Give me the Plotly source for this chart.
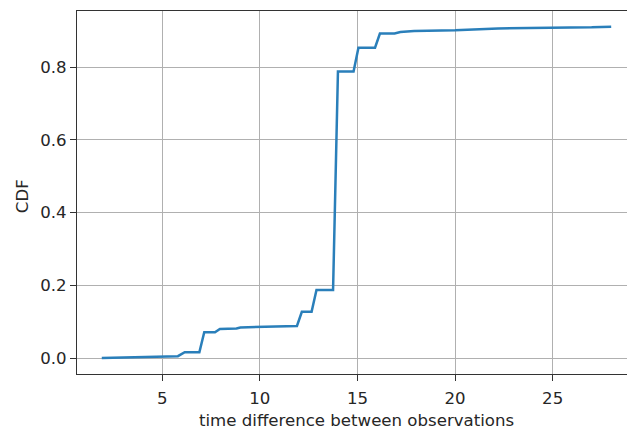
import plotly.graph_objects as go

# CDF curve
time_diff = [1.9, 4.9, 5.8, 6.15, 6.9, 7.15, 7.7, 7.95, 8.8, 9.0, 9.9, 11.0, 11.9,
             12.15, 12.65, 12.9, 13.75, 14.0, 14.8, 15.05, 15.9, 16.15, 16.9, 17.2,
             17.9, 20.0, 21.0, 22.2, 27.0, 28.0]
cdf = [0.0, 0.003, 0.005, 0.016, 0.016, 0.071, 0.071, 0.080, 0.081, 0.084, 0.085,
       0.087, 0.088, 0.127, 0.127, 0.187, 0.187, 0.788, 0.788, 0.853, 0.853, 0.892,
       0.892, 0.896, 0.899, 0.901, 0.903, 0.906, 0.909, 0.911]

x_ticks = [5, 10, 15, 20, 25]
y_ticks = [0.0, 0.2, 0.4, 0.6, 0.8]
x_label = "time difference between observations"
y_label = "CDF"

W, H = 627, 430
L, R, T, B = 77, 0, 11, 56

font = dict(family="DejaVu Sans", size=16.6, color="#262626")

fig = go.Figure()
fig.add_trace(go.Scatter(x=time_diff, y=cdf, mode="lines",
                         line=dict(color="#2a7fba", width=2.5), showlegend=False))

fig.update_layout(
    width=W, height=H,
    margin=dict(l=L, r=R, t=T, b=B, pad=0),
    paper_bgcolor="white", plot_bgcolor="white",
    font=font,
    xaxis=dict(range=[0.63, 28.81], tickvals=x_ticks, ticktext=[str(v) for v in x_ticks],
               showgrid=True, gridcolor="#b0b0b0", gridwidth=1.3,
               showline=True, linecolor="#333333", linewidth=1.2, mirror=True,
               ticks="outside", ticklen=6, tickcolor="#333333", zeroline=False,
               ticklabelstandoff=3, tickfont=font),
    yaxis=dict(range=[-0.044, 0.954], tickvals=y_ticks, ticktext=[f"{v:.1f}" for v in y_ticks],
               showgrid=True, gridcolor="#b0b0b0", gridwidth=1.3,
               showline=True, linecolor="#333333", linewidth=1.2, mirror=False,
               ticks="outside", ticklen=6, tickcolor="#333333", zeroline=False,
               tickfont=font),
    annotations=[
        dict(text=x_label, xref="x", yref="paper", x=14.97, y=-0.129,
             xanchor="center", yanchor="middle", showarrow=False, font=font),
        dict(text=y_label, xref="paper", yref="paper", x=-0.1, y=0.49,
             xanchor="center", yanchor="middle", textangle=-90, showarrow=False, font=font),
    ],
)

fig.write_html("out.html")
